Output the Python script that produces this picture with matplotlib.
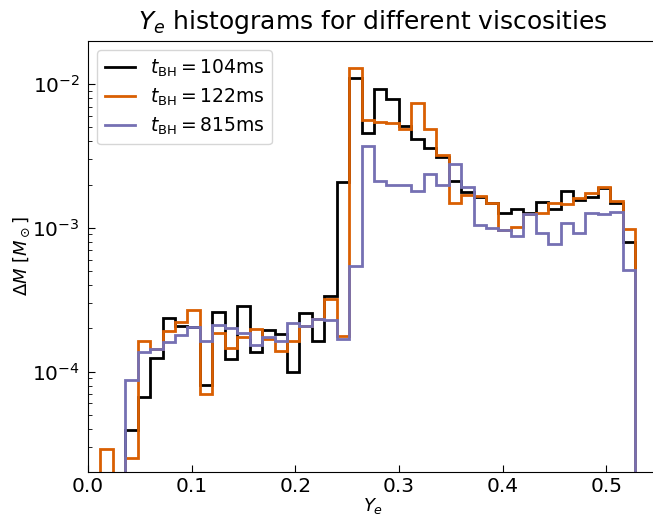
import numpy as np
import matplotlib
matplotlib.use("Agg")
import matplotlib.pyplot as plt

# Bin edges in Ye (width 0.012, 44 bins)
bin_width = 0.012
n_bins = 44
edges = np.arange(n_bins + 1) * bin_width

# Mass per bin [M_sun] (0 = empty bin)
mass_104 = [0, 0, 0, 3.9e-5, 6.7e-5, 1.24e-4, 2.36e-4, 2.06e-4, 2.03e-4, 8.1e-5,
            2.59e-4, 1.23e-4, 2.84e-4, 1.36e-4, 1.95e-4, 1.82e-4, 1.0e-4, 2.55e-4, 1.64e-4, 3.37e-4,
            2.08e-3, 1.11e-2, 4.6e-3, 9.33e-3, 7.86e-3, 5.12e-3, 4.18e-3, 3.62e-3, 3.13e-3, 2.12e-3,
            1.78e-3, 1.64e-3, 1.49e-3, 1.27e-3, 1.36e-3, 1.26e-3, 1.52e-3, 1.36e-3, 1.82e-3, 1.56e-3,
            1.65e-3, 1.90e-3, 1.49e-3, 7.98e-4]
mass_122 = [0, 2.9e-5, 0, 2.5e-5, 1.64e-4, 1.44e-4, 1.92e-4, 2.23e-4, 2.69e-4, 6.95e-5,
            1.85e-4, 1.45e-4, 1.74e-4, 1.99e-4, 1.68e-4, 1.40e-4, 1.62e-4, 2.08e-4, 2.32e-4, 3.2e-4,
            1.77e-4, 1.29e-2, 5.61e-3, 5.46e-3, 5.35e-3, 4.85e-3, 7.36e-3, 4.85e-3, 3.2e-3, 1.48e-3,
            1.69e-3, 1.66e-3, 1.49e-3, 9.73e-4, 1.01e-3, 1.24e-3, 1.26e-3, 1.49e-3, 1.47e-3, 1.62e-3,
            1.75e-3, 1.92e-3, 1.54e-3, 9.84e-4]
mass_815 = [0, 0, 0, 8.75e-5, 1.36e-4, 1.44e-4, 1.60e-4, 1.80e-4, 2.03e-4, 1.62e-4,
            2.12e-4, 2.0e-4, 1.87e-4, 1.53e-4, 1.74e-4, 1.64e-4, 2.17e-4, 2.08e-4, 2.32e-4, 2.29e-4,
            1.68e-4, 5.4e-4, 3.71e-3, 2.12e-3, 1.99e-3, 1.99e-3, 1.82e-3, 2.38e-3, 2.0e-3, 2.8e-3,
            1.93e-3, 1.04e-3, 1.0e-3, 9.7e-4, 8.75e-4, 1.24e-3, 9.23e-4, 7.78e-4, 1.08e-3, 9.23e-4,
            1.27e-3, 1.25e-3, 1.29e-3, 5.12e-4]

labels = [r"$t_{\rm BH}=104$ms", r"$t_{\rm BH}=122$ms", r"$t_{\rm BH}=815$ms"]
colors = ["black", "#d95f02", "#7570b3"]

W, H = 653, 521
fig = plt.figure(figsize=(W / 100, H / 100), dpi=100)
ax = fig.add_axes([88 / W, (H - 472) / H, (658 - 88) / W, (472 - 41) / H])

for vals, lab, col in zip([mass_104, mass_122, mass_815], labels, colors):
    ax.stairs(np.array(vals, dtype=float), edges, baseline=0, color=col, lw=2, label=lab)

ax.set_yscale("log")
ax.set_xlim(0, 0.55)
ax.set_ylim(2e-5, 2e-2)
ax.tick_params(which="both", direction="in", labelsize=14.5)
ax.tick_params(axis="y", which="both", pad=6)
ax.tick_params(which="major", length=5)
ax.tick_params(which="minor", length=3)
ax.set_xticks([0.0, 0.1, 0.2, 0.3, 0.4, 0.5])
ax.set_xlabel(r"$Y_e$", fontsize=13, labelpad=0)
ax.set_ylabel(r"$\Delta M\ [M_\odot]$", fontsize=13, labelpad=0)
ax.set_title(r"$Y_e$ histograms for different viscosities", fontsize=18, pad=9)
ax.legend(loc="upper left", fontsize=13.5, handlelength=1.6, labelspacing=0.4)

fig.savefig("out.png", dpi=100)
